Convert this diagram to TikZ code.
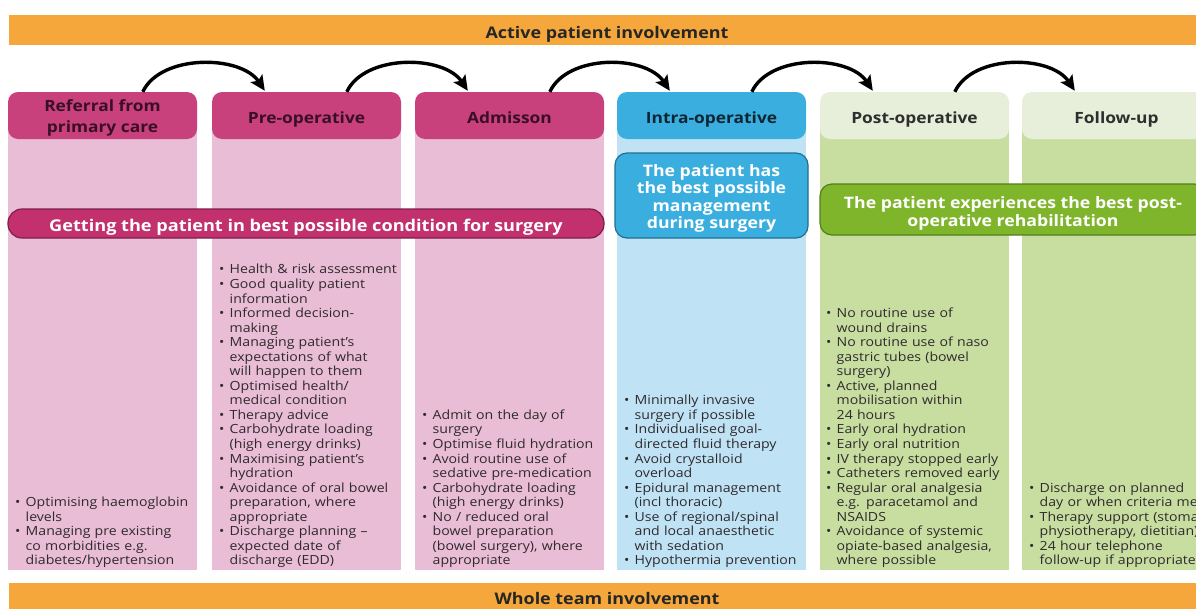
\documentclass[tikz,border=0pt]{standalone}
\usepackage{fontspec}
\setmainfont{Open Sans}[FakeStretch=1.12]
\usetikzlibrary{arrows.meta,calc}

\definecolor{barorange}{HTML}{F5A73B}
\definecolor{pinkhead}{HTML}{C8417D}
\definecolor{pinkbody}{HTML}{E8BDD5}
\definecolor{pinkband}{HTML}{C2306E}
\definecolor{pinkline}{HTML}{7E1E4B}
\definecolor{pinktext}{HTML}{3A0F26}
\definecolor{bluehead}{HTML}{3AAEDF}
\definecolor{bluebody}{HTML}{BFE3F5}
\definecolor{blueline}{HTML}{22708F}
\definecolor{bluetext}{HTML}{0F2533}
\definecolor{greenhead}{HTML}{E7EFDA}
\definecolor{greenbody}{HTML}{C8DEA1}
\definecolor{greenband}{HTML}{7EB52B}
\definecolor{greenline}{HTML}{527F1C}
\definecolor{greentext}{HTML}{2E2E2E}
\definecolor{listtext}{HTML}{2F2A2D}

% bullet line and continuation line of a list
\newcommand{\bl}{\makebox[10.5pt][l]{\textbullet}}
\newcommand{\cl}{\hspace*{10.5pt}}

\tikzset{
  % single text line whose box is its cap height (plus room to sit it lower)
  capped/.style={text height=#1, text depth=0pt},
  bar/.style={fill=barorange, minimum width=1196pt, minimum height=30pt,
    inner sep=0pt, text=black!85, font=\fontsize{16}{18}\selectfont\bfseries},
  phase/.style={rounded corners=10pt, minimum width=189pt, minimum height=47pt,
    inner sep=0pt},
  pinkphase/.style={phase, fill=pinkhead},
  bluephase/.style={phase, fill=bluehead},
  greenphase/.style={phase, fill=greenhead},
  phasename/.style={inner sep=0pt, align=center,
    font=\fontsize{15.5}{21}\selectfont\bfseries},
  goal/.style={draw, line width=1.2pt, inner sep=0pt},
  goaltext/.style={inner sep=0pt, align=center, text=white},
  items/.style={anchor=south west, inner sep=0pt, text width=220pt, align=left,
    text=listtext, font=\fontsize{12.6}{14.55}\selectfont},
  flow/.style={line width=3.4pt, -{Stealth[length=15pt,width=14pt,inset=3pt]}}
}

\begin{document}
\begin{tikzpicture}[x=1pt, y=-1pt]
\useasboundingbox (0,0) rectangle (1196,608);
\clip (0,0) rectangle (1196,608);

% involvement bars
\node[bar, capped=16.4pt] (active) at (607,30) {Active patient involvement};
\node[bar, capped=12.8pt] (team) at (607,598) {Whole team involvement};

% column bodies
\fill[pinkbody]  (8,115)    rectangle (197,570);
\fill[pinkbody]  (212,115)  rectangle (401,570);
\fill[pinkbody]  (415,115)  rectangle (604,570);
\fill[bluebody]  (617,115)  rectangle (806,570);
\fill[greenbody] (820,115)  rectangle (1009,570);
\fill[greenbody] (1022,115) rectangle (1211,570);

% phase headers
\node[pinkphase]  (h1) at (102.5,115.5)  {};
\node[pinkphase]  (h2) at (306.5,115.5)  {};
\node[pinkphase]  (h3) at (509.5,115.5)  {};
\node[bluephase]  (h4) at (711.5,115.5)  {};
\node[greenphase] (h5) at (914.5,115.5)  {};
\node[greenphase] (h6) at (1116.5,115.5) {};

\node[phasename, text=pinktext] (t1) at ([yshift=-2.5pt]h1.center) {Referral from\\primary care};
\node[phasename, capped=11.1pt, text=pinktext] (t2) at ([yshift=-2.5pt]h2.center) {Pre-operative};
\node[phasename, capped=11.1pt, text=pinktext] (t3) at ([yshift=-2.5pt]h3.center) {Admisson};
\node[phasename, capped=11.1pt, text=bluetext] (t4) at ([yshift=-2.5pt]h4.center) {Intra-operative};
\node[phasename, capped=11.1pt, text=greentext] (t5) at ([yshift=-2.5pt]h5.center) {Post-operative};
\node[phasename, capped=11.1pt, text=greentext] (t6) at ([yshift=-2.5pt]h6.center) {Follow-up};

% arrows from phase to phase
\foreach \a/\b in {h1/h2, h2/h3, h3/h4, h4/h5, h5/h6}
  \draw[flow] ([xshift=135pt]\a.north west) .. controls +(18,-38) and +(-24,-36) .. ([xshift=53pt,yshift=1pt]\b.north west);

% goals
\node[goal, fill=pinkband, draw=pinkline, rounded corners=14pt,
  minimum width=596pt, minimum height=29pt, goaltext, capped=16.6pt,
  font=\fontsize{16.2}{18}\selectfont\bfseries] (g1) at (306,223.5)
  {Getting the patient in best possible condition for surgery};

\node[goal, fill=bluehead, draw=blueline, rounded corners=12pt,
  minimum width=193pt, minimum height=85pt] (g2) at (711.5,195.5) {};
\node[goaltext, font=\fontsize{15.8}{17.3}\selectfont\bfseries] (k2)
  at ([yshift=-3pt]g2.center)
  {The patient has\\the best possible\\management\\during surgery};

\node[goal, fill=greenband, draw=greenline, rounded corners=12pt,
  minimum width=386pt, minimum height=51pt] (g3) at (1013,209.5) {};
\node[goaltext, font=\fontsize{15.8}{18}\selectfont\bfseries] (k3)
  at ([yshift=-4pt]g3.center)
  {The patient experiences the best post-\\operative rehabilitation};

% measures in each phase
\node[items] (l1) at (15,569.5) {%
\bl Optimising haemoglobin\\
\cl levels\\
\bl Managing pre existing\\
\cl co morbidities e.g.\\
\cl diabetes/hypertension\strut};

\node[items] (l2) at (219,569.5) {%
\bl Health \& risk assessment\\
\bl Good quality patient\\
\cl information\\
\bl Informed decision-\\
\cl making\\
\bl Managing patient’s\\
\cl expectations of what\\
\cl will happen to them\\
\bl Optimised health/\\
\cl medical condition\\
\bl Therapy advice\\
\bl Carbohydrate loading\\
\cl (high energy drinks)\\
\bl Maximising patient’s\\
\cl hydration\\
\bl Avoidance of oral bowel\\
\cl preparation, where\\
\cl appropriate\\
\bl Discharge planning –\\
\cl expected date of\\
\cl discharge (EDD)\strut};

\node[items] (l3) at (422,569.5) {%
\bl Admit on the day of\\
\cl surgery\\
\bl Optimise fluid hydration\\
\bl Avoid routine use of\\
\cl sedative pre-medication\\
\bl Carbohydrate loading\\
\cl (high energy drinks)\\
\bl No / reduced oral\\
\cl bowel preparation\\
\cl (bowel surgery), where\\
\cl appropriate\strut};

\node[items] (l4) at (624,569.5) {%
\bl Minimally invasive\\
\cl surgery if possible\\
\bl Individualised goal-\\
\cl directed fluid therapy\\
\bl Avoid crystalloid\\
\cl overload\\
\bl Epidural management\\
\cl (incl thoracic)\\
\bl Use of regional/spinal\\
\cl and local anaesthetic\\
\cl with sedation\\
\bl Hypothermia prevention\strut};

\node[items] (l5) at (826,569.5) {%
\bl No routine use of\\
\cl wound drains\\
\bl No routine use of naso\\
\cl gastric tubes (bowel\\
\cl surgery)\\
\bl Active, planned\\
\cl mobilisation within\\
\cl 24 hours\\
\bl Early oral hydration\\
\bl Early oral nutrition\\
\bl IV therapy stopped early\\
\bl Catheters removed early\\
\bl Regular oral analgesia\\
\cl e.g. paracetamol and\\
\cl NSAIDS\\
\bl Avoidance of systemic\\
\cl opiate-based analgesia,\\
\cl where possible\strut};

\node[items] (l6) at (1029,569.5) {%
\bl Discharge on planned\\
\cl day or when criteria met\\
\bl Therapy support (stoma,\\
\cl physiotherapy, dietitian)\\
\bl 24 hour telephone\\
\cl follow-up if appropriate\strut};
\end{tikzpicture}
\end{document}
